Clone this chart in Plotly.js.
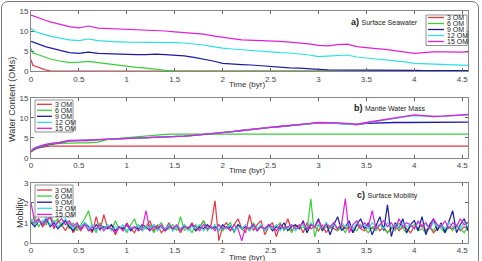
<!DOCTYPE html>
<html><head><meta charset="utf-8">
<script src="https://cdn.plot.ly/plotly-3.0.1.min.js"></script>
<style>
html,body{margin:0;padding:0;background:#fff;overflow:hidden;}
#frame{position:absolute;left:1px;top:1px;width:476px;height:300px;border:1px solid #7a7a7a;border-radius:7px;}
#chart{position:absolute;left:0;top:0;width:482px;height:261px;}
</style></head><body>
<div id="frame"></div>
<div id="chart"></div>
<script>
// ---------- DATA ----------
var seriesNames = ['3 OM', '6 OM', '9 OM', '12 OM', '15 OM'];
var seriesColors = ['#e8343c', '#38d038', '#1c1ca8', '#2ee0e0', '#e020d8'];
var xTicks = [0, 0.5, 1, 1.5, 2, 2.5, 3, 3.5, 4, 4.5];

// a) Surface seawater (OMs)
var tA = [0, 0.02, 0.05, 0.1, 0.15, 0.2, 0.3, 0.4, 0.5, 0.6, 0.7, 0.8, 0.9, 1.0, 1.1, 1.2, 1.3, 1.4, 1.5, 1.6, 1.7, 1.8, 1.9, 2.0, 2.1, 2.2, 2.3, 2.4, 2.5, 2.6, 2.7, 2.8, 2.9, 3.0, 3.1, 3.2, 3.3, 3.4, 3.5, 3.6, 3.7, 3.8, 3.9, 4.0, 4.1, 4.2, 4.3, 4.4, 4.5, 4.56];
var sea3  = [2.8, 1.4, 1.2, 0.7, 0.3, 0.05, 0, 0, 0, 0, 0, 0, 0, 0, 0, 0, 0, 0, 0, 0, 0, 0, 0, 0, 0, 0, 0, 0, 0, 0, 0, 0, 0, 0, 0, 0, 0, 0, 0, 0, 0, 0, 0, 0, 0, 0, 0, 0, 0, 0];
var sea6  = [5.6, 4.5, 4.3, 3.9, 3.4, 3.0, 2.5, 2.1, 2.2, 2.4, 2.1, 1.8, 1.4, 1.1, 0.9, 0.7, 0.4, 0.15, 0.05, 0.02, 0, 0, 0, 0, 0, 0, 0, 0, 0, 0, 0, 0, 0, 0, 0, 0, 0, 0, 0, 0, 0, 0, 0, 0, 0, 0, 0, 0, 0, 0];
var sea9  = [7.4, 7.2, 7.0, 6.5, 6.1, 5.8, 5.2, 4.6, 4.4, 4.7, 4.4, 4.3, 4.3, 4.2, 4.1, 4.1, 4.2, 4.1, 4.0, 3.8, 3.4, 3.0, 2.5, 1.9, 1.7, 1.6, 1.5, 1.3, 1.1, 0.9, 0.8, 0.7, 0.5, 0.4, 0.3, 0.3, 0.25, 0.3, 0.3, 0.2, 0.3, 0.2, 0.2, 0.15, 0.1, 0.1, 0.1, 0.1, 0.1, 0.1];
var sea12 = [10.6, 10.2, 9.8, 9.4, 9.0, 8.7, 8.2, 7.8, 7.6, 8.0, 7.6, 7.4, 7.3, 7.2, 7.2, 7.1, 7.2, 7.1, 7.1, 7.0, 6.8, 6.5, 6.1, 5.7, 5.5, 5.3, 5.1, 4.9, 4.8, 4.6, 4.5, 4.3, 4.0, 3.6, 3.7, 3.9, 4.0, 3.5, 3.2, 3.0, 2.8, 2.6, 2.3, 1.9, 1.8, 1.7, 1.7, 1.6, 1.5, 1.4];
var sea15 = [14.0, 13.8, 13.6, 13.2, 12.7, 12.3, 11.75, 11.1, 10.8, 11.25, 10.7, 10.6, 10.5, 10.4, 10.4, 10.3, 10.2, 10.0, 9.8, 9.6, 9.4, 9.2, 8.8, 8.4, 8.1, 7.8, 7.7, 7.6, 7.6, 7.4, 7.2, 7.0, 6.8, 6.4, 6.3, 6.6, 6.7, 6.1, 5.8, 5.6, 5.4, 5.1, 4.7, 4.4, 4.6, 4.8, 4.8, 4.7, 4.7, 4.8];

// b) Mantle water mass (OMs)
var mant3  = [1.5, 1.8, 2.2, 2.6, 2.8, 2.9, 2.9, 2.9, 2.9, 2.9, 2.9, 2.9, 2.9, 2.9, 2.9, 2.9, 2.9, 2.9, 2.9, 2.9, 2.9, 2.9, 2.9, 2.9, 2.9, 2.9, 2.9, 2.9, 2.9, 2.9, 2.9, 2.9, 2.9, 2.9, 2.9, 2.9, 2.9, 2.9, 2.9, 2.9, 2.9, 2.9, 2.9, 2.9, 2.9, 2.9, 2.9, 2.9, 2.9, 2.9];
var mant6  = [1.5, 1.9, 2.3, 2.7, 3.0, 3.3, 3.6, 3.7, 3.7, 3.7, 3.9, 4.6, 4.8, 5.0, 5.2, 5.4, 5.7, 5.85, 5.9, 5.9, 5.9, 5.9, 5.9, 5.9, 5.9, 5.9, 5.9, 5.9, 5.9, 5.9, 5.9, 5.9, 5.9, 5.9, 5.9, 5.9, 5.9, 5.9, 5.9, 5.9, 5.9, 5.9, 5.9, 5.9, 5.9, 5.9, 5.9, 5.9, 5.9, 5.9];
var mant9  = [1.5, 2.0, 2.4, 2.8, 3.1, 3.4, 3.7, 4.2, 4.3, 4.3, 4.5, 4.6, 4.7, 4.8, 4.9, 5.0, 5.0, 5.1, 5.2, 5.4, 5.6, 5.8, 6.0, 6.2, 6.5, 6.8, 7.1, 7.4, 7.6, 7.8, 8.0, 8.2, 8.5, 8.7, 8.7, 8.6, 8.5, 8.3, 8.6, 8.7, 8.7, 8.8, 8.8, 8.8, 8.8, 8.8, 8.8, 8.8, 8.9, 8.9];
var mant12 = [1.5, 2.1, 2.5, 2.9, 3.2, 3.5, 3.8, 4.3, 4.3, 4.3, 4.5, 4.6, 4.7, 4.8, 4.9, 5.0, 5.0, 5.1, 5.2, 5.4, 5.6, 5.8, 6.0, 6.2, 6.5, 6.8, 7.1, 7.4, 7.6, 7.8, 8.0, 8.2, 8.5, 8.7, 8.7, 8.6, 8.5, 8.3, 8.7, 9.1, 9.5, 9.8, 10.2, 10.5, 10.4, 10.3, 10.4, 10.5, 10.7, 10.7];
var mant15 = [1.5, 2.2, 2.6, 3.0, 3.3, 3.5, 3.8, 4.3, 4.3, 4.3, 4.5, 4.6, 4.7, 4.8, 4.9, 5.0, 5.0, 5.1, 5.2, 5.4, 5.6, 5.8, 6.0, 6.2, 6.5, 6.8, 7.1, 7.4, 7.6, 7.8, 8.0, 8.2, 8.5, 8.8, 8.8, 8.7, 8.6, 8.3, 8.8, 9.2, 9.6, 9.9, 10.3, 10.7, 10.5, 10.3, 10.4, 10.6, 10.8, 10.8];

// c) Surface mobility, sampled every 0.04 byr from 0 to 4.6
var mobStep = 0.04;
var mob3 = [1.1, 0.9, 1.2, 0.8, 1.0, 1.3, 0.7, 1.1, 0.9, 0.6,
  1.0, 0.5, 0.8, 0.6, 0.9, 0.7, 0.5, 1.3, 0.6, 1.4,
  0.7, 0.9, 0.4, 0.8, 0.6, 1.0, 0.7, 0.5, 0.9, 0.6,
  0.8, 1.1, 0.6, 0.9, 0.5, 0.7, 1.0, 0.6, 0.8, 0.5,
  0.9, 0.7, 1.0, 0.6, 0.8, 1.1, 0.7, 0.9, 2.1, 0.1,
  0.8, 1.0, 0.6, 0.9, 1.2, 0.7, 0.5, 1.4, 0.6, 0.9,
  1.1, 0.4, 0.8, 1.0, 0.3, 0.9, 0.7, 1.2, 0.6, 0.8,
  0.9, 0.5, 1.0, 0.7, 0.8, 0.6, 0.9, 0.5, 0.8, 0.7,
  0.6, 0.9, 0.7, 0.8, 0.5, 0.9, 0.7, 0.6, 0.8, 0.7,
  0.9, 0.6, 0.8, 0.5, 0.7, 0.9, 0.6, 0.8, 0.7, 0.5,
  0.8, 0.7, 0.9, 0.6, 0.8, 0.5, 0.7, 0.9, 0.6, 0.8,
  0.7, 0.9, 0.6, 0.8, 0.7, 0.8];
var mob6 = [1.0, 1.3, 0.8, 1.1, 0.9, 1.4, 1.0, 1.2, 0.8, 1.1,
  0.7, 1.0, 0.6, 0.9, 1.2, 1.6, 0.8, 0.5, 1.0, 0.7,
  0.9, 0.6, 1.1, 0.7, 0.8, 0.5, 0.9, 1.2, 0.6, 0.8,
  0.7, 0.9, 0.5, 0.8, 1.0, 0.6, 0.7, 0.9, 0.6, 1.3,
  0.6, 0.8, 0.5, 0.9, 0.7, 1.1, 0.6, 0.8, 0.7, 0.9,
  0.6, 0.8, 1.0, 0.5, 0.9, 0.7, 0.8, 0.6, 1.0, 0.7,
  0.8, 0.6, 0.9, 0.7, 0.8, 1.0, 0.6, 0.8, 0.5, 0.9,
  0.7, 0.8, 0.6, 2.2, 0.3, 0.9, 0.6, 0.8, 0.7, 1.0,
  0.6, 0.8, 0.5, 0.9, 0.7, 0.6, 0.9, 0.7, 0.5, 0.8,
  0.6, 0.9, 0.7, 0.5, 0.8, 0.6, 1.0, 0.7, 0.5, 0.8,
  0.9, 0.6, 0.7, 0.5, 0.8, 0.6, 0.9, 0.7, 0.5, 0.8,
  0.6, 0.9, 0.7, 0.5, 0.8, 0.6];
var mob9 = [1.0, 0.8, 1.1, 0.9, 1.2, 0.8, 1.0, 0.7, 0.9, 1.1,
  0.8, 0.6, 0.9, 0.7, 1.0, 0.8, 0.6, 0.9, 0.7, 0.8,
  0.7, 0.9, 0.6, 0.8, 0.7, 0.9, 0.6, 0.8, 0.7, 0.9,
  0.8, 0.6, 0.9, 0.7, 0.8, 0.6, 0.9, 0.7, 0.8, 0.7,
  0.8, 0.7, 0.9, 0.6, 0.8, 0.7, 0.9, 0.7, 0.8, 0.6,
  0.9, 0.7, 0.8, 0.6, 0.9, 0.7, 0.8, 0.7, 0.9, 0.6,
  0.8, 0.7, 0.9, 0.6, 0.8, 0.7, 1.0, 0.6, 0.8, 0.9,
  0.7, 1.1, 0.5, 0.9, 0.8, 1.2, 0.6, 1.0, 0.4, 0.9,
  1.3, 0.6, 0.8, 1.1, 0.5, 0.9, 1.2, 0.7, 1.0, 0.4,
  0.9, 1.3, 0.6, 1.9, 0.3, 1.0, 0.7, 1.2, 0.5, 0.9,
  1.1, 0.6, 1.3, 0.4, 0.9, 1.2, 0.6, 1.0, 0.5, 1.1,
  1.6, 0.5, 0.9, 1.2, 0.6, 1.0];
var mob12 = [1.2, 0.9, 1.1, 1.0, 1.3, 0.9, 1.1, 0.8, 1.0, 1.2,
  0.9, 0.7, 0.9, 0.8, 1.0, 0.7, 0.9, 0.6, 0.8, 0.7,
  0.9, 0.6, 0.8, 0.7, 0.9, 0.6, 0.8, 0.7, 0.9, 0.6,
  0.8, 0.7, 0.9, 0.6, 0.8, 0.7, 0.9, 0.6, 0.8, 0.7,
  0.9, 0.6, 0.8, 0.7, 0.9, 0.6, 0.8, 0.7, 0.9, 0.6,
  0.8, 0.7, 0.9, 0.6, 0.8, 0.7, 0.9, 0.6, 0.8, 0.7,
  0.9, 0.6, 0.8, 0.7, 0.9, 0.6, 0.8, 0.7, 0.9, 0.6,
  0.8, 0.9, 0.7, 1.0, 0.8, 0.9, 0.7, 1.0, 0.8, 0.9,
  0.7, 1.0, 0.8, 0.9, 0.7, 1.0, 0.8, 0.9, 0.7, 1.0,
  0.8, 0.9, 0.7, 1.0, 0.8, 0.9, 0.7, 1.0, 0.8, 0.9,
  0.7, 1.0, 0.8, 0.9, 0.7, 1.0, 0.8, 0.9, 0.7, 1.0,
  0.8, 0.9, 0.7, 1.0, 0.8, 0.9];
var mob15 = [2.0, 1.0, 1.2, 0.9, 1.1, 1.3, 0.8, 1.0, 1.2, 0.9,
  1.1, 0.8, 1.0, 0.7, 0.9, 0.6, 0.8, 0.7, 0.9, 0.6,
  0.8, 0.7, 0.5, 0.8, 0.6, 0.9, 0.7, 0.8, 0.6, 0.7,
  1.6, 0.6, 0.8, 0.7, 0.9, 0.6, 0.8, 0.7, 0.9, 0.6,
  0.8, 0.7, 0.9, 0.8, 0.6, 0.9, 0.7, 0.8, 0.6, 0.9,
  0.7, 0.8, 0.6, 0.9, 0.7, 0.1, 0.8, 0.7, 0.9, 0.6,
  0.8, 0.7, 0.9, 0.8, 0.6, 0.9, 0.7, 0.8, 0.9, 0.7,
  0.8, 1.0, 0.7, 0.9, 0.8, 1.1, 0.7, 0.9, 0.8, 1.0,
  0.7, 0.9, 2.2, 0.5, 0.9, 1.1, 0.7, 1.0, 0.8, 1.6,
  0.7, 0.9, 1.1, 0.8, 1.0, 0.7, 1.2, 0.8, 1.0, 0.9,
  0.7, 1.1, 0.8, 1.0, 0.7, 1.2, 0.9, 0.8, 1.1, 0.7,
  1.0, 0.8, 1.2, 0.9, 1.0, 0.8];

// ---------- BUILD ----------
var W = 482, H = 261;
function px(x){ return x / W; }
function py(y){ return 1 - y / H; }

var tC = mob15.map(function(_, i){ return +(i * mobStep).toFixed(2); });
var seaData = [sea3, sea6, sea9, sea12, sea15];
var mantData = [mant3, mant6, mant9, mant12, mant15];
var mobData = [mob3, mob6, mob9, mob12, mob15];

var traces = [];
seaData.forEach(function(v, k){
  traces.push({x: tA, y: v, xaxis: 'x', yaxis: 'y', mode: 'lines', name: seriesNames[k], showlegend: false,
    line: {color: seriesColors[k], width: 1.2}});
});
mantData.forEach(function(v, k){
  traces.push({x: tA, y: v, xaxis: 'x2', yaxis: 'y2', mode: 'lines', name: seriesNames[k], showlegend: false,
    line: {color: seriesColors[k], width: 1.3}});
});
mobData.forEach(function(v, k){
  traces.push({x: tC, y: v, xaxis: 'x3', yaxis: 'y3', mode: 'lines', name: seriesNames[k], showlegend: false,
    line: {color: seriesColors[k], width: 1.2}});
});

var FAM = 'Liberation Sans, Arial, sans-serif';
var tickFont = {family: FAM, size: 8, color: '#444'};
var titleFont = {family: FAM, size: 9, color: '#333'};
var timeFont = {family: FAM, size: 8, color: '#333'};
var xDom = [px(31), px(468)];
function xAxis(anchor){
  return {domain: xDom, anchor: anchor, range: [0, 4.56], tickvals: xTicks, ticktext: xTicks.map(String),
    ticks: 'inside', ticklen: 3, tickcolor: '#666', showline: true, linecolor: '#888', linewidth: 1,
    mirror: 'ticks', showgrid: false, zeroline: false, tickfont: tickFont};
}
function yAxis(anchor, top, bot, range, dtick){
  return {domain: [py(bot), py(top)], anchor: anchor, range: range, dtick: dtick,
    ticks: 'inside', ticklen: 3, tickcolor: '#666', showline: true, linecolor: '#888', linewidth: 1,
    mirror: 'ticks', showgrid: false, zeroline: false, tickfont: tickFont};
}

var shapes = [], annotations = [];
function legend(x0, x1, y0, y1, rowY, rowStep, lineX0, lineX1){
  shapes.push({type: 'rect', xref: 'paper', yref: 'paper', x0: px(x0), x1: px(x1), y0: py(y1), y1: py(y0),
    line: {color: '#777', width: 0.8}, fillcolor: '#fff', layer: 'above'});
  seriesNames.forEach(function(n, k){
    var yy = rowY + rowStep * k;
    shapes.push({type: 'line', xref: 'paper', yref: 'paper', x0: px(lineX0), x1: px(lineX1), y0: py(yy), y1: py(yy),
      line: {color: seriesColors[k], width: 1.3}, layer: 'above'});
    annotations.push({xref: 'paper', yref: 'paper', x: px(lineX1 + 0.5), y: py(yy), xanchor: 'left', yanchor: 'middle',
      text: n, showarrow: false, font: {family: FAM, size: 7, color: '#222'}});
  });
}
legend(426, 467, 15, 45.5, 17.5, 6, 428, 444);
legend(35, 73, 100, 132, 104.3, 6, 37, 52);
legend(35, 73, 185, 217, 190, 6.1, 37, 52);

function label(x, y, letter, txt){
  annotations.push({xref: 'paper', yref: 'paper', x: px(x), y: py(y), xanchor: 'left', yanchor: 'middle', showarrow: false,
    text: '<b>' + letter + '</b> <span style="font-size:7px">' + txt + '</span>',
    font: {family: FAM, size: 9, color: '#222'}});
}
label(349, 22, 'a)', 'Surface Seawater');
label(352, 108, 'b)', 'Mantle Water Mass');
label(355, 195, 'c)', 'Surface Mobility');

[84.8, 170.8, 257.3].forEach(function(yy){
  annotations.push({xref: 'paper', yref: 'paper', x: px(247.5), y: py(yy), showarrow: false,
    text: 'Time (byr)', font: timeFont, xanchor: 'center', yanchor: 'middle'});
});
annotations.push({xref: 'paper', yref: 'paper', x: px(12), y: py(100), textangle: -90, showarrow: false,
  text: 'Water Content (OMs)', font: titleFont, xanchor: 'center', yanchor: 'middle'});
annotations.push({xref: 'paper', yref: 'paper', x: px(20), y: py(213), textangle: -90, showarrow: false,
  text: 'Mobility', font: titleFont, xanchor: 'center', yanchor: 'middle'});

var layout = {
  width: W, height: H, margin: {l: 0, r: 0, t: 0, b: 0},
  paper_bgcolor: 'rgba(0,0,0,0)', plot_bgcolor: '#fff', showlegend: false,
  xaxis: xAxis('y'), xaxis2: xAxis('y2'), xaxis3: xAxis('y3'),
  yaxis: yAxis('x', 11, 71, [0, 15], 5),
  yaxis2: yAxis('x2', 97.7, 157.7, [0, 15], 5),
  yaxis3: yAxis('x3', 182.7, 242.7, [0, 3], 1),
  shapes: shapes, annotations: annotations
};

Plotly.newPlot('chart', traces, layout, {staticPlot: true, displayModeBar: false});
</script>
</body></html>
